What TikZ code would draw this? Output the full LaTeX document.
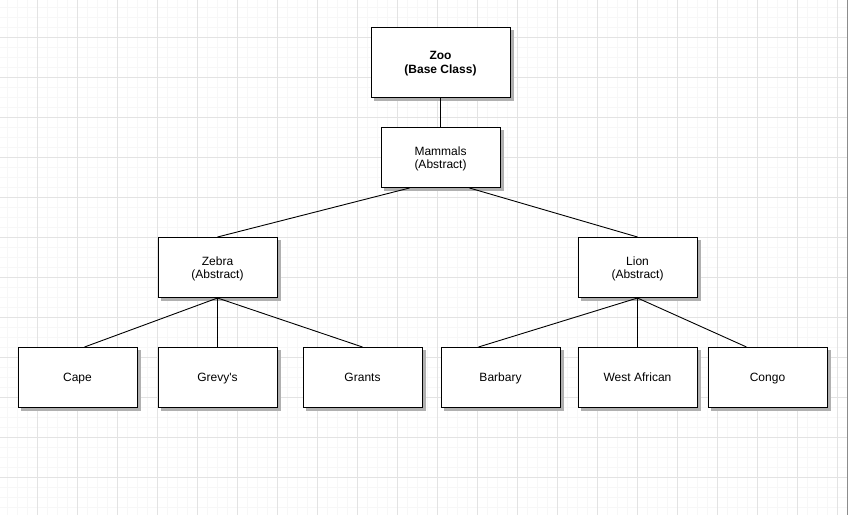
\documentclass[tikz,border=0pt]{standalone}
\usepackage{fontspec}
\setmainfont{Liberation Sans}
\definecolor{minorgrid}{HTML}{F7F7F7}
\definecolor{majorgrid}{HTML}{E3E3E3}
\definecolor{shadowgray}{HTML}{B0B0B0}
\pgfdeclarelayer{gridlayer}
\pgfdeclarelayer{shadowlayer}
\pgfsetlayers{gridlayer,shadowlayer,main}
\newcommand{\lbl}[1]{\rule{0pt}{8.6pt}\smash{#1}}
\tikzset{
  classbox/.style={draw=black, line width=1pt, fill=white, minimum width=119pt, minimum height=60pt,
    inner sep=0pt, align=center, font=\fontsize{12pt}{13.5pt}\selectfont},
  link/.style={draw=black, line width=0.9pt},
  shade box/.style={fill=shadowgray}
}
\begin{document}
\begin{tikzpicture}[x=1pt,y=-1pt]
\useasboundingbox (0,0) rectangle (848,515);
\begin{pgfonlayer}{gridlayer}
\fill[white] (0,0) rectangle (848,515);
\foreach \i in {7,17,...,847} \draw[minorgrid, line width=0.75pt] (\i,0) -- (\i,515);
\foreach \j in {7,17,...,515} \draw[minorgrid, line width=0.75pt] (0,\j) -- (848,\j);
\foreach \i in {37,77,...,847} \draw[majorgrid, line width=0.75pt] (\i,0) -- (\i,515);
\foreach \j in {37,77,...,515} \draw[majorgrid, line width=0.75pt] (0,\j) -- (848,\j);
\draw[black!45, line width=1pt] (847.5,0) -- (847.5,515);
\end{pgfonlayer}

\node[classbox, minimum width=139pt, minimum height=70pt, font=\fontsize{12pt}{14pt}\selectfont\bfseries] (zoo) at (440.5,62.5) {\lbl{Zoo}\\\lbl{(Base Class)}};
\node[classbox] (mammals) at (440.5,157.5) {\lbl{Mammals}\\\lbl{(Abstract)}};
\node[classbox] (zebra) at (217.5,267.5) {\lbl{Zebra}\\\lbl{(Abstract)}};
\node[classbox] (lion) at (637.5,267.5) {\lbl{Lion}\\\lbl{(Abstract)}};
\node[classbox] (cape) at (77.5,377.5) {\lbl{Cape}};
\node[classbox] (grevy) at (217.5,377.5) {\lbl{Grevy\textquotesingle s}};
\node[classbox] (grants) at (362.5,377.5) {\lbl{Grants}};
\node[classbox] (barbary) at (500.5,377.5) {\lbl{Barbary}};
\node[classbox] (westafrican) at (637.5,377.5) {\lbl{West African}};
\node[classbox] (congo) at (767.5,377.5) {\lbl{Congo}};

\begin{pgfonlayer}{shadowlayer}
\foreach \n in {zoo,mammals,zebra,lion,cape,grevy,grants,barbary,westafrican,congo}
  \fill[shade box] ([xshift=3pt,yshift=-3pt]\n.south west) rectangle ([xshift=3pt,yshift=-3pt]\n.north east);
\end{pgfonlayer}

\draw[link] (zoo.south) -- (mammals.north);
\draw[link] ([xshift=-31pt]mammals.south) -- (zebra.north);
\draw[link] ([xshift=29pt]mammals.south) -- (lion.north);
\draw[link] (zebra.south) -- ([xshift=7pt]cape.north);
\draw[link] (zebra.south) -- (grevy.north);
\draw[link] (zebra.south) -- (grants.north);
\draw[link] (lion.south) -- ([xshift=-22pt]barbary.north);
\draw[link] (lion.south) -- (westafrican.north);
\draw[link] (lion.south) -- ([xshift=-21pt]congo.north);
\end{tikzpicture}
\end{document}
